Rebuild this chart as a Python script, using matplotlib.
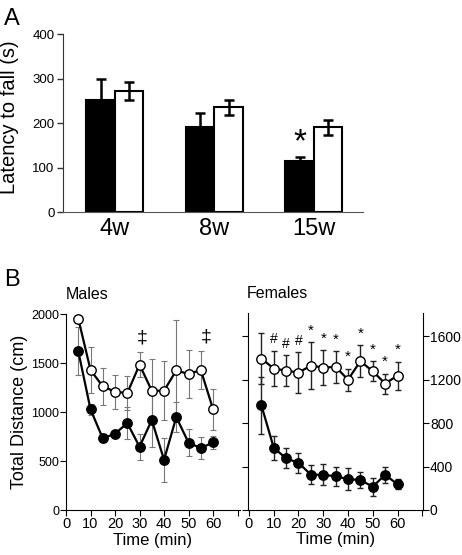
import numpy as np
import matplotlib.pyplot as plt

plt.rcParams['font.family'] = ['Liberation Sans', 'DejaVu Sans']

# panel A: latency to fall
ages = ['4w', '8w', '15w']
lat_black = [251, 192, 114]
lat_black_err = [47, 31, 10]
lat_white = [272, 235, 190]
lat_white_err = [20, 17, 17]

# panel B: total distance per 5 min bin
time = [5, 10, 15, 20, 25, 30, 35, 40, 45, 50, 55, 60]
male_black = [1623, 1029, 734, 781, 890, 649, 920, 516, 951, 689, 635, 693]
male_black_err = [240, 60, 40, 40, 160, 134, 270, 222, 150, 136, 111, 68]
male_white = [1953, 1430, 1263, 1209, 1195, 1484, 1219, 1219, 1426, 1389, 1430, 1032]
male_white_err = [0, 234, 190, 173, 177, 129, 323, 302, 510, 244, 197, 208]
fem_black = [965, 573, 475, 435, 325, 325, 310, 285, 276, 215, 325, 236]
fem_black_err = [261, 110, 92, 92, 89, 95, 88, 98, 76, 82, 73, 46]
fem_white = [1395, 1303, 1284, 1266, 1330, 1312, 1318, 1201, 1370, 1278, 1165, 1238]
fem_white_err = [236, 165, 141, 187, 215, 165, 147, 102, 147, 92, 92, 129]
male_marks_x = [31, 57]
male_marks = ['‡', '‡']
fem_marks = ['', '#', '#', '#', '*', '*', '*', '*', '*', '*', '*', '*']

fig = plt.figure(figsize=(4.62, 5.55), dpi=100)

# ---------- A ----------
axA = fig.add_axes([0.136, 0.618, 0.649, 0.3207])
x = np.arange(len(ages))
w = 0.286
axA.bar(x - w / 2, lat_black, w, color='black', edgecolor='black', linewidth=1.5)
axA.bar(x + w / 2, lat_white, w, color='white', edgecolor='black', linewidth=1.5)
axA.errorbar(x - w / 2, lat_black, yerr=[np.zeros(3), lat_black_err], fmt='none',
             ecolor='black', elinewidth=1.8, capsize=3.5, capthick=1.8)
axA.errorbar(x + w / 2, lat_white, yerr=lat_white_err, fmt='none',
             ecolor='black', elinewidth=1.8, capsize=3.5, capthick=1.8)
axA.text(x[2] - w / 2, lat_black[2] + lat_black_err[2] + 32, '*', fontsize=24,
         ha='center', va='center')
axA.set_xlim(-0.523, 2.49)
axA.set_ylim(0, 400)
axA.set_yticks([0, 100, 200, 300, 400])
axA.set_xticks(x)
axA.set_xticklabels(ages, fontsize=17)
axA.tick_params(axis='x', length=0, pad=4)
axA.tick_params(axis='y', labelsize=9.5, length=4, width=1, color='#333', pad=2)
axA.set_ylabel('Latency to fall (s)', fontsize=14.5)
axA.yaxis.set_label_coords(-0.145, 0.53)
for s in ['top', 'right']:
    axA.spines[s].set_visible(False)
axA.spines['left'].set_color('#333')
axA.spines['bottom'].set_color('#555')
fig.text(0.008, 0.965, 'A', fontsize=17, va='center')
fig.text(0.008, 0.495, 'B', fontsize=17, va='center')


def series(ax, y, err, fill, ecol, elw, cs):
    ax.errorbar(time, y, yerr=err, fmt='none', ecolor=ecol, elinewidth=elw,
                capsize=cs, capthick=elw, zorder=1)
    ax.plot(time, y, color='black', lw=1.6, marker='o', markersize=6.8,
            markerfacecolor=fill, markeredgecolor='black', markeredgewidth=1.0, zorder=3)


# ---------- B males ----------
axM = fig.add_axes([0.1429, 0.0802, 0.3766, 0.354])
series(axM, male_white, male_white_err, 'white', '#777', 0.8, 2)
series(axM, male_black, male_black_err, 'black', '#777', 0.8, 2)
for xm, m in zip(male_marks_x, male_marks):
    i = time.index(int(round(xm / 5.0)) * 5)
    axM.text(xm, male_white[i] + male_white_err[i] + 140, m, fontsize=14,
             ha='center', va='center')
axM.set_xlim(0, 71)
axM.set_ylim(0, 2000)
axM.set_xticks(range(0, 71, 10))
axM.set_xticklabels(['0', '10', '20', '30', '40', '50', '60', ''])
axM.set_yticks(range(0, 2001, 500))
axM.tick_params(axis='x', labelsize=10.5, length=4, pad=1)
axM.tick_params(axis='y', labelsize=9, length=4, pad=1)
axM.set_ylabel('Total Distance (cm)', fontsize=13, labelpad=2)
axM.set_xlabel('Time (min)', fontsize=12, labelpad=1)
for s in ['top', 'right']:
    axM.spines[s].set_visible(False)
axM.text(0.0, 1.06, 'Males', transform=axM.transAxes, fontsize=11.5, va='bottom')

# ---------- B females ----------
axF = fig.add_axes([0.5368, 0.0811, 0.3788, 0.355])
series(axF, fem_white, fem_white_err, '#ffffff', '#222', 1.0, 2)
series(axF, fem_black, fem_black_err, 'black', '#222', 1.0, 2)
for t, v, e, m in zip(time, fem_white, fem_white_err, fem_marks):
    if m:
        axF.text(t, v + e + 40, m, fontsize=10 if m == '#' else 11,
                 ha='center', va='bottom')
axF.set_xlim(-0.4, 70.3)
axF.set_ylim(0, 1815)
axF.set_xticks(range(0, 71, 10))
axF.set_xticklabels(['0', '10', '20', '30', '40', '50', '60', ''])
axF.set_yticks(range(0, 1601, 400))
axF.tick_params(axis='x', labelsize=10.5, length=4, pad=1)
axF.tick_params(axis='y', which='both', left=True, right=True, labelleft=False,
                labelright=True, labelsize=10, length=4, pad=1)
axF.set_xlabel('Time (min)', fontsize=12, labelpad=1)
axF.spines['top'].set_visible(False)
axF.text(-0.01, 1.06, 'Females', transform=axF.transAxes, fontsize=11.5, va='bottom')

fig.savefig('out.png', dpi=100)
